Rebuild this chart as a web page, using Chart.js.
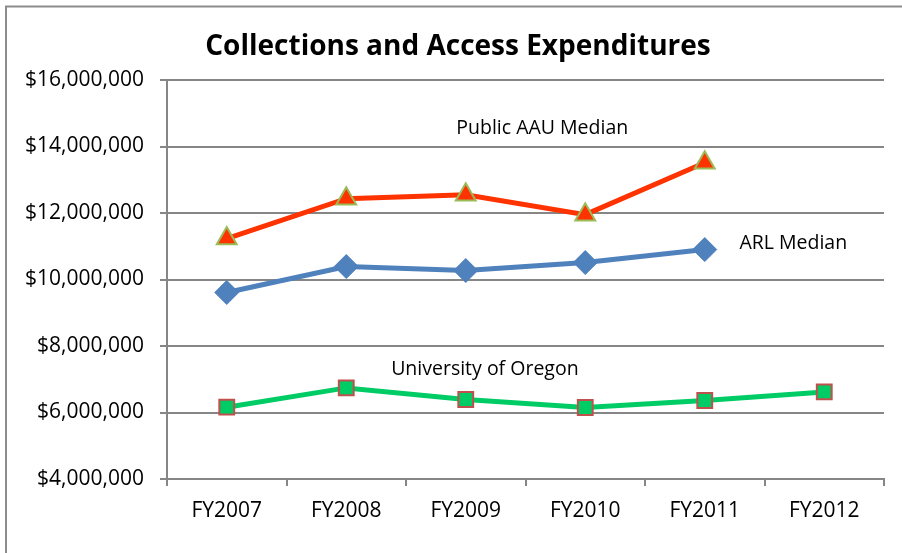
<!DOCTYPE html>
<html><head><meta charset="utf-8">
<script src="https://cdn.jsdelivr.net/npm/chart.js@4"></script>
<style>html,body{margin:0;padding:0;background:#fff}#wrap{width:902px;height:553px}</style>
</head><body><div id="wrap"><canvas id="c" width="902" height="553"></canvas></div>
<script>
const chartTitle = 'Collections and Access Expenditures';
const categories = ['FY2007','FY2008','FY2009','FY2010','FY2011','FY2012'];
const publicAAU = [11230000, 12430000, 12550000, 11950000, 13510000, null];
const arlMedian = [9610000, 10390000, 10270000, 10510000, 10900000, null];
const uOregon = [6160000, 6740000, 6390000, 6150000, 6360000, 6620000];
const yTicks = {min: 4000000, max: 16000000, step: 2000000};
const seriesLabels = [
  {text: 'Public AAU Median', x: 2.64, y: 14530000, align: 'center'},
  {text: 'ARL Median', x: 4.29, y: 11080000, align: 'left'},
  {text: 'University of Oregon', x: 2.16, y: 7300000, align: 'center'}
];
const FONT = '"Open Sans", sans-serif';

const labelPlugin = {
  id: 'seriesLabels',
  afterDatasetsDraw(chart) {
    const ctx = chart.ctx, xs = chart.scales.x, ys = chart.scales.y;
    ctx.save();
    ctx.font = '19.5px ' + FONT;
    ctx.fillStyle = '#000';
    ctx.textBaseline = 'middle';
    seriesLabels.forEach(l => {
      ctx.textAlign = l.align;
      ctx.fillText(l.text, xs.getPixelForValue(l.x), ys.getPixelForValue(l.y));
    });
    ctx.restore();
  }
};
const framePlugin = {
  id: 'frameAndTitle',
  beforeDraw(chart) {
    const ctx = chart.ctx;
    ctx.save();
    ctx.strokeStyle = '#8c8c8c';
    ctx.lineWidth = 2;
    ctx.strokeRect(6, 6.5, 1000, 1000);
    ctx.font = 'bold 28px ' + FONT;
    ctx.fillStyle = '#000';
    ctx.textAlign = 'center';
    ctx.textBaseline = 'middle';
    ctx.fillText(chartTitle, 458, 47);
    ctx.restore();
  }
};

new Chart(document.getElementById('c'), {
  type: 'line',
  data: {
    labels: categories,
    datasets: [
      {label: 'Public AAU Median', data: publicAAU, borderColor: '#FF3300', backgroundColor: '#FF3300',
       borderWidth: 5, pointStyle: 'triangle', pointRadius: 11.5, pointBorderColor: '#9BBB59', pointBorderWidth: 2,
       pointBackgroundColor: '#FF3300', tension: 0},
      {label: 'ARL Median', data: arlMedian, borderColor: '#4F81BD', backgroundColor: '#4F81BD',
       borderWidth: 5, pointStyle: 'rectRot', pointRadius: 12, pointBorderColor: '#4F81BD', pointBorderWidth: 1,
       pointBackgroundColor: '#4F81BD', tension: 0},
      {label: 'University of Oregon', data: uOregon, borderColor: '#00CC66', backgroundColor: '#00CC66',
       borderWidth: 5, pointStyle: 'rect', pointRadius: 10.5, pointBorderColor: '#C0504D', pointBorderWidth: 2,
       pointBackgroundColor: '#00CC66', tension: 0}
    ]
  },
  options: {
    responsive: false,
    animation: false,
    devicePixelRatio: 1,
    layout: {padding: {left: 0, right: 18, top: 80, bottom: 0}},
    plugins: {
      legend: {display: false},
      tooltip: {enabled: false},
      title: {display: false}
    },
    scales: {
      x: {
        offset: true,
        grid: {offset: true, drawOnChartArea: false, color: '#868686', tickLength: 7, lineWidth: 2},
        border: {color: '#868686', width: 2},
        ticks: {color: '#000', font: {family: FONT, size: 21}, padding: 12},
        afterFit(s) { s.height = 74; }
      },
      y: {
        min: yTicks.min, max: yTicks.max,
        grid: {color: '#868686', tickLength: 7, lineWidth: 2},
        border: {color: '#868686', width: 2},
        ticks: {stepSize: yTicks.step, color: '#000', font: {family: FONT, size: 21}, padding: 16,
          callback: v => '$' + v.toLocaleString('en-US')},
        afterFit(s) { s.width = 167; }
      }
    }
  },
  plugins: [framePlugin, labelPlugin]
});
</script></body></html>
